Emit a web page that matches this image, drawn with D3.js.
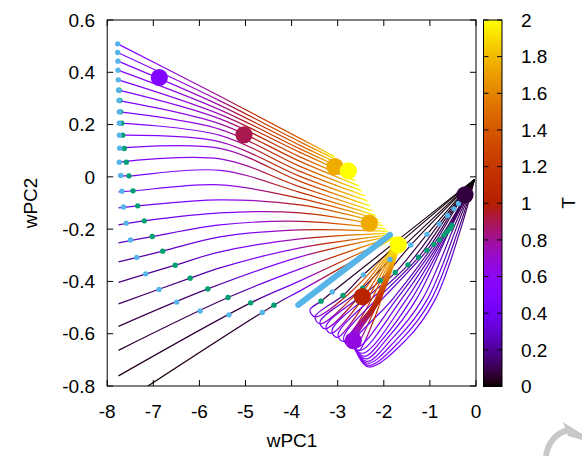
<!DOCTYPE html>
<html><head><meta charset="utf-8">
<script src="https://cdn.jsdelivr.net/npm/d3@7"></script>
<style>body{margin:0;background:#fff}svg{display:block}text{font-family:"Liberation Sans",Arial,Helvetica,sans-serif;fill:#000}</style>
</head><body><svg id="c" width="582" height="456"></svg>
<script>
// ---------- tick values / labels ----------
const xTicks=[-8,-7,-6,-5,-4,-3,-2,-1,0];
const xTickLabels=["-8","-7","-6","-5","-4","-3","-2","-1","0"];
const yTicks=[-0.8,-0.6,-0.4,-0.2,0,0.2,0.4,0.6];
const yTickLabels=["-0.8","-0.6","-0.4","-0.2","0","0.2","0.4","0.6"];
const cbTicks=[0,0.2,0.4,0.6,0.8,1,1.2,1.4,1.6,1.8,2];
const cbTickLabels=["0","0.2","0.4","0.6","0.8","1","1.2","1.4","1.6","1.8","2"];

// ---------- left family of trajectories: [wPC1, wPC2, T] ----------
const leftCurves=[
[[-7.772,0.5088,0.52],[-5.553,0.3080,0.80],[-3.818,0.1473,1.45],[-3.059,0.0765,2]],
[[-7.772,0.4755,0.51],[-5.553,0.2907,0.79],[-3.818,0.1339,1.43],[-2.972,0.0612,2]],
[[-7.766,0.4426,0.50],[-5.553,0.2735,0.78],[-3.818,0.1205,1.40],[-2.874,0.0421,2]],
[[-7.766,0.4082,0.50],[-5.553,0.2563,0.77],[-3.818,0.1071,1.38],[-2.777,0.0230,2]],
[[-7.759,0.3711,0.49],[-5.553,0.2391,0.76],[-3.818,0.0937,1.35],[-2.690,0.0038,2]],
[[-7.751,0.3317,0.48],[-5.553,0.2219,0.75],[-3.818,0.0765,1.32],[-2.614,-0.0153,2]],
[[-7.744,0.2919,0.47],[-5.553,0.2028,0.74],[-3.818,0.0593,1.29],[-2.538,-0.0344,2]],
[[-7.738,0.2487,0.46],[-5.553,0.1817,0.72],[-3.818,0.0402,1.26],[-2.473,-0.0536,2]],
[[-7.738,0.2054,0.45],[-5.553,0.1588,0.70],[-3.818,0.0210,1.23],[-2.408,-0.0727,2]],
[[-7.738,0.1595,0.44],[-5.553,0.1339,0.68],[-3.818,0.0019,1.20],[-2.354,-0.0918,2]],
[[-7.729,0.1098,0.43],[-5.553,0.1090,0.66],[-3.818,-0.0172,1.17],[-2.299,-0.1109,2]],
[[-7.738,0.0562,0.42],[-5.553,0.0689,0.64],[-3.818,-0.0383,1.14],[-2.245,-0.1301,2]],
[[-7.755,0.0038,0.40],[-7.527,0.0038,0.42],[-5.553,0.0249,0.62],[-3.818,-0.0593,1.10],[-2.180,-0.1473,2]],
[[-7.755,-0.0574,0.37],[-7.440,-0.0536,0.40],[-5.553,-0.0306,0.58],[-3.818,-0.0822,1.05],[-2.115,-0.1626,2]],
[[-7.755,-0.1186,0.33],[-7.338,-0.1109,0.37],[-5.553,-0.0880,0.54],[-3.818,-0.1071,1.00],[-2.061,-0.1760,2]],
[[-7.755,-0.1836,0.28],[-7.195,-0.1683,0.33],[-5.553,-0.1377,0.50],[-3.818,-0.1377,0.95],[-2.007,-0.1875,2]],
[[-7.755,-0.2525,0.24],[-7.022,-0.2284,0.29],[-5.553,-0.1836,0.45],[-3.818,-0.1702,0.90],[-1.952,-0.1989,2]],
[[-7.755,-0.3252,0.20],[-6.796,-0.2842,0.25],[-5.553,-0.2295,0.40],[-3.818,-0.2028,0.85],[-1.909,-0.2085,2]],
[[-7.755,-0.4036,0.16],[-6.525,-0.3378,0.21],[-5.553,-0.2869,0.35],[-3.818,-0.2372,0.80],[-1.866,-0.2161,2]],
[[-7.755,-0.4858,0.12],[-6.200,-0.3875,0.18],[-5.553,-0.3481,0.30],[-3.818,-0.2716,0.72],[-1.833,-0.2219,2]],
[[-7.755,-0.5719,0.08],[-5.818,-0.4285,0.15],[-3.818,-0.3060,0.65],[-1.811,-0.2257,2]],
[[-7.755,-0.6637,0.05],[-5.380,-0.4617,0.13],[-3.818,-0.3520,0.58],[-1.800,-0.2288,2]],
[[-7.755,-0.7613,0.03],[-4.887,-0.4820,0.10],[-3.818,-0.3979,0.52],[-1.790,-0.2307,2]],
[[-7.115,-0.80,0.01],[-4.382,-0.4908,0.08],[-3.818,-0.4361,0.48],[-1.779,-0.2334,2]]
];

// ---------- right family: common start, outbound legs, return legs ----------
const rightStart=[-0.0325,-0.0096,0];
const rightOut=[
[[-3.117,-0.4407,0.05],[-3.362,-0.4755,0.12],[-3.601,-0.5088,0.42]],
[[-2.445,-0.3749,0.05],[-2.885,-0.4541,0.12],[-3.492,-0.5356,0.42]],
[[-1.866,-0.3164,0.05],[-2.458,-0.4258,0.13],[-3.384,-0.5547,0.43]],
[[-1.414,-0.2609,0.05],[-2.076,-0.3967,0.14],[-3.254,-0.5719,0.44]],
[[-1.063,-0.2200,0.05],[-1.751,-0.3661,0.15],[-3.124,-0.5872,0.45]],
[[-0.798,-0.1798,0.05],[-1.475,-0.3366,0.16],[-2.993,-0.6025,0.46]],
[[-0.614,-0.1480,0.05],[-1.247,-0.3072,0.17],[-2.874,-0.6159,0.47]],
[[-0.477,-0.1224,0.05],[-1.063,-0.2812,0.18],[-2.766,-0.6293,0.48]],
[[-0.380,-0.1021,0.05],[-0.915,-0.2582,0.19],[-1.822,-0.4706,0.32],[-2.668,-0.6408,0.49]],
[[-0.796,-0.2410,0.18],[-1.735,-0.4706,0.33],[-2.581,-0.6523,0.50]],
[[-0.694,-0.2230,0.18],[-1.627,-0.4706,0.34],[-2.516,-0.6637,0.50]],
[[-0.623,-0.2093,0.18],[-1.518,-0.4706,0.35],[-2.462,-0.6752,0.51]],
[[-0.564,-0.1989,0.18],[-1.410,-0.4706,0.36],[-2.039,-0.6236,0.44],[-2.419,-0.6867,0.51]],
[[-0.521,-0.1855,0.18],[-1.302,-0.4706,0.37],[-1.952,-0.6236,0.45],[-2.386,-0.6963,0.52]],
[[-0.456,-0.1836,0.18],[-1.171,-0.4706,0.38],[-1.844,-0.6236,0.46],[-2.364,-0.7058,0.52]],
[[-0.401,-0.1836,0.18],[-1.063,-0.4706,0.39],[-1.735,-0.6236,0.47],[-2.354,-0.7135,0.53]],
[[-0.347,-0.1836,0.18],[-0.976,-0.4706,0.40],[-1.627,-0.6236,0.48],[-2.343,-0.7211,0.53]],
[[-0.304,-0.1836,0.18],[-0.889,-0.4706,0.41],[-1.518,-0.6236,0.49],[-2.332,-0.7269,0.54]]
];
const rightBack=[
[[-3.492,-0.5356,0.6],[-2.751,-0.4461,1.1],[-1.746,-0.2544,2]],
[[-3.384,-0.5624,0.6],[-2.683,-0.4625,1.1],[-1.742,-0.2555,2]],
[[-3.275,-0.5815,0.6],[-2.616,-0.4744,1.1],[-1.738,-0.2567,2]],
[[-3.145,-0.5987,0.6],[-2.538,-0.4855,1.1],[-1.733,-0.2578,2]],
[[-3.015,-0.6140,0.6],[-2.458,-0.4950,1.1],[-1.729,-0.2590,2]],
[[-2.885,-0.6293,0.6],[-2.377,-0.5046,1.1],[-1.725,-0.2601,2]],
[[-2.766,-0.6427,0.6],[-2.304,-0.5130,1.1],[-1.720,-0.2613,2]],
[[-2.657,-0.6561,0.6],[-2.236,-0.5214,1.1],[-1.716,-0.2624,2]],
[[-2.560,-0.6676,0.6],[-2.178,-0.5291,1.1],[-1.712,-0.2636,2]],
[[-2.755,-0.6197,0.6],[-2.213,-0.4820,1.1],[-1.707,-0.2647,2]],
[[-2.738,-0.6217,0.6],[-2.195,-0.4805,1.1],[-1.703,-0.2659,2]],
[[-2.720,-0.6236,0.6],[-2.178,-0.4790,1.1],[-1.698,-0.2670,2]],
[[-2.703,-0.6255,0.6],[-2.161,-0.4774,1.1],[-1.694,-0.2682,2]],
[[-2.686,-0.6274,0.6],[-2.143,-0.4759,1.1],[-1.690,-0.2693,2]],
[[-2.668,-0.6293,0.6],[-2.126,-0.4744,1.1],[-1.685,-0.2705,2]],
[[-2.651,-0.6312,0.6],[-2.108,-0.4728,1.1],[-1.681,-0.2716,2]],
[[-2.634,-0.6331,0.6],[-2.091,-0.4713,1.1],[-1.677,-0.2728,2]],
[[-2.616,-0.6350,0.6],[-2.074,-0.4698,1.1],[-1.672,-0.2739,2]]
];

// ---------- marker points ----------
const leftCyan=[[-7.772,0.5088],[-7.772,0.4755],[-7.766,0.4426],[-7.766,0.4082],[-7.759,0.3711],[-7.751,0.3317],[-7.744,0.2919],[-7.738,0.2487],[-7.738,0.2054],[-7.738,0.1595],[-7.729,0.1098],[-7.738,0.0562],[-7.707,0.0050],[-7.679,-0.0547],[-7.646,-0.1155],[-7.588,-0.1771],[-7.495,-0.2418],[-7.358,-0.3080],[-7.163,-0.3711],[-6.876,-0.4304],[-6.492,-0.4790],[-5.983,-0.5134],[-5.358,-0.5279],[-4.636,-0.5191]];
const leftGreen=[[-7.740,0.3317],[-7.727,0.2919],[-7.711,0.2487],[-7.686,0.2054],[-7.664,0.1595],[-7.629,0.1083],[-7.586,0.0562],[-7.527,0.0038],[-7.440,-0.0536],[-7.338,-0.1109],[-7.195,-0.1683],[-7.022,-0.2284],[-6.796,-0.2842],[-6.525,-0.3378],[-6.200,-0.3875],[-5.818,-0.4285],[-5.380,-0.4617],[-4.887,-0.4820],[-4.382,-0.4908]];
const rightCyan=[[-3.117,-0.4407],[-2.445,-0.3749],[-1.866,-0.3164],[-1.414,-0.2609],[-1.063,-0.2200],[-0.798,-0.1798],[-0.614,-0.1480],[-0.477,-0.1224],[-0.380,-0.1021]];
const rightGreen=[[-3.362,-0.4755],[-2.885,-0.4541],[-2.458,-0.4258],[-2.076,-0.3967],[-1.751,-0.3661],[-1.475,-0.3366],[-1.247,-0.3072],[-1.063,-0.2812],[-0.915,-0.2582],[-0.796,-0.2410],[-0.694,-0.2230],[-0.623,-0.2093],[-0.564,-0.1989],[-0.521,-0.1855]];
const bigDots=[[-6.870,0.380,0.5],[-5.033,0.1607,0.9],[-3.059,0.0394,1.75],[-2.770,0.0230,2.0],[-2.315,-0.1771,1.75],[-1.686,-0.2601,2.0],[-2.466,-0.4579,1.04],[-2.662,-0.6262,0.66],[-0.2386,-0.0689,0.08]];
const thickLine=[[-3.855,-0.4897],[-1.866,-0.222]];

// ---------- setup ----------
const FS=19;
const svg=d3.select('#c');
const defs=svg.append('defs');
const x=d3.scaleLinear().domain([-8,0]).range([107.2,476]);
const y=d3.scaleLinear().domain([-0.8,0.6]).range([386,20]);
const pal=t=>{t=Math.max(0,Math.min(1,t));return d3.rgb(255*Math.sqrt(t),255*t*t*t,255*Math.max(0,Math.sin(2*Math.PI*t))).formatHex();};
const color=d3.scaleSequential(pal).domain([0,2]);

defs.append('clipPath').attr('id','plotclip').append('rect')
  .attr('x',x(-8)).attr('y',y(0.6)).attr('width',x(0)-x(-8)).attr('height',y(-0.8)-y(0.6));

const lineGen=d3.line().x(d=>x(d[0])).y(d=>y(d[1])).curve(d3.curveCatmullRom.alpha(0.5));
let gid=0;
function makeGradient(pts){
  const P=pts.map(d=>[x(d[0]),y(d[1]),d[2]]);
  const a=P[0], b=P[P.length-1];
  const dx=b[0]-a[0], dy=b[1]-a[1], L2=dx*dx+dy*dy;
  const offs=[]; let prev=0;
  P.forEach(p=>{let o=((p[0]-a[0])*dx+(p[1]-a[1])*dy)/L2; o=Math.max(prev,Math.min(1,o)); offs.push(o); prev=o;});
  const id='grad'+(gid++);
  const g=defs.append('linearGradient').attr('id',id).attr('gradientUnits','userSpaceOnUse')
    .attr('x1',a[0]).attr('y1',a[1]).attr('x2',b[0]).attr('y2',b[1]);
  for(let j=0;j<P.length-1;j++){
    for(let s=0;s<8;s++){
      const f=s/8;
      g.append('stop').attr('offset',offs[j]+(offs[j+1]-offs[j])*f)
       .attr('stop-color',color(P[j][2]+(P[j+1][2]-P[j][2])*f));
    }
  }
  g.append('stop').attr('offset',1).attr('stop-color',color(P[P.length-1][2]));
  return id;
}

const plot=svg.append('g').attr('clip-path','url(#plotclip)');
const LW=1.2;

leftCurves.forEach(c=>{
  const id=makeGradient(c);
  plot.append('path').attr('d',lineGen(c)).attr('fill','none')
    .attr('stroke',`url(#${id})`).attr('stroke-width',LW);
});

rightOut.forEach((out,i)=>{
  const back=rightBack[i];
  const outPts=[rightStart,...out];
  const tip=out[out.length-1];
  const full=[...outPts,...back];
  const d=lineGen(full);
  const tmp=plot.append('path').attr('d',d).attr('fill','none').attr('stroke','none');
  const node=tmp.node(), total=node.getTotalLength();
  const tx=x(tip[0]), ty=y(tip[1]);
  let best=0,bd=1e9;
  for(let s=0;s<=total;s+=0.5){const p=node.getPointAtLength(s);const dd=(p.x-tx)**2+(p.y-ty)**2;if(dd<bd){bd=dd;best=s;}}
  tmp.remove();
  const g1=makeGradient(outPts), g2=makeGradient([tip,...back]);
  plot.append('path').attr('d',d).attr('fill','none').attr('stroke',`url(#${g1})`)
    .attr('stroke-width',LW).attr('stroke-dasharray',`${best} ${total+20}`);
  plot.append('path').attr('d',d).attr('fill','none').attr('stroke',`url(#${g2})`)
    .attr('stroke-width',LW).attr('stroke-dasharray',`0 ${best} ${total+20}`);
});

const mk=(arr,col)=>plot.append('g').selectAll('circle').data(arr).join('circle')
  .attr('cx',d=>x(d[0])).attr('cy',d=>y(d[1])).attr('r',2.7).attr('fill',col);
mk(leftGreen,'#009e73'); mk(leftCyan,'#56b4e9');
mk(rightGreen,'#009e73'); mk(rightCyan,'#56b4e9');

plot.append('path').attr('d',d3.line().x(d=>x(d[0])).y(d=>y(d[1]))(thickLine))
  .attr('stroke','#56b4e9').attr('stroke-width',6).attr('stroke-linecap','round').attr('fill','none');

plot.append('g').selectAll('circle').data(bigDots.slice().sort((a,b)=>a[2]-b[2])).join('circle')
  .attr('cx',d=>x(d[0])).attr('cy',d=>y(d[1])).attr('r',8.6).attr('fill',d=>color(d[2]));

const ax=svg.append('g').attr('stroke','#000').attr('stroke-width',1);
ax.append('rect').attr('x',x(-8)).attr('y',y(0.6)).attr('width',x(0)-x(-8)).attr('height',y(-0.8)-y(0.6)).attr('fill','none');
const TL=6;
xTicks.forEach(v=>{
  ax.append('line').attr('x1',x(v)).attr('x2',x(v)).attr('y1',y(-0.8)).attr('y2',y(-0.8)-TL);
  ax.append('line').attr('x1',x(v)).attr('x2',x(v)).attr('y1',y(0.6)).attr('y2',y(0.6)+TL);
});
yTicks.forEach(v=>{
  ax.append('line').attr('y1',y(v)).attr('y2',y(v)).attr('x1',x(-8)).attr('x2',x(-8)+TL);
  ax.append('line').attr('y1',y(v)).attr('y2',y(v)).attr('x1',x(0)).attr('x2',x(0)-TL);
});
const txt=svg.append('g').attr('font-size',FS);
xTicks.forEach((v,i)=>txt.append('text').attr('x',x(v)).attr('y',418).attr('text-anchor','middle').text(xTickLabels[i]));
yTicks.forEach((v,i)=>txt.append('text').attr('x',95).attr('y',y(v)).attr('dy','0.35em').attr('text-anchor','end').text(yTickLabels[i]));
txt.append('text').attr('x',292).attr('y',447).attr('text-anchor','middle').text('wPC1');
txt.append('text').attr('transform','translate(30,203) rotate(-90)').attr('dy','0.35em').attr('text-anchor','middle').text('wPC2');

const cb=d3.scaleLinear().domain([0,2]).range([386.5,20]);
const cg=defs.append('linearGradient').attr('id','cbgrad').attr('x1',0).attr('y1',1).attr('x2',0).attr('y2',0);
d3.range(0,101).forEach(k=>cg.append('stop').attr('offset',k/100).attr('stop-color',color(2*k/100)));
const cbx0=483.5,cbx1=502;
svg.append('rect').attr('x',cbx0).attr('y',cb(2)).attr('width',cbx1-cbx0).attr('height',cb(0)-cb(2))
  .attr('fill','url(#cbgrad)').attr('stroke','#000').attr('stroke-width',1);
const cbt=svg.append('g').attr('stroke','#000').attr('stroke-width',1);
cbTicks.forEach((v,i)=>{
  cbt.append('line').attr('x1',cbx0).attr('x2',cbx0+5).attr('y1',cb(v)).attr('y2',cb(v));
  cbt.append('line').attr('x1',cbx1-5).attr('x2',cbx1).attr('y1',cb(v)).attr('y2',cb(v));
  txt.append('text').attr('x',521).attr('y',cb(v)).attr('dy','0.35em').text(cbTickLabels[i]);
});
txt.append('text').attr('transform','translate(568,203) rotate(-90)').attr('dy','0.35em').attr('text-anchor','middle').text('T');

// corner decoration
svg.append('path').attr('d','M546,456 C548,442 557,432 569,430')
  .attr('fill','none').attr('stroke','#c8c8c8').attr('stroke-width',6);
svg.append('path').attr('d','M563,422 L582,434 L582,440 L568,436 Z').attr('fill','#c8c8c8');
</script></body></html>
